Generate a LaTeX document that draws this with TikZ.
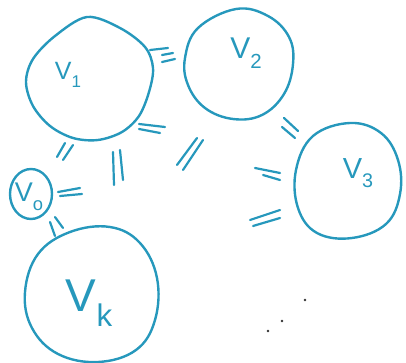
\documentclass[tikz,border=0pt]{standalone}
\usepackage{fontspec}
\setmainfont{Liberation Sans}
\definecolor{pen}{RGB}{38,152,188}
\definecolor{dotc}{RGB}{50,50,50}
\newcommand\lowsub[1]{\raisebox{-0.32em}{\scalebox{0.68}{#1}}}
\begin{document}
\begin{tikzpicture}[x=1pt,y=-1pt,
  blob/.style={draw=pen,line width=2.4pt,line join=round},
  tick/.style={draw=pen,line width=2.2pt,line cap=round},
  lbl/.style={text=pen,inner sep=0pt},
  dotm/.style={fill=dotc,circle,inner sep=0pt,minimum size=2.8pt}]
\useasboundingbox (0,0) rectangle (406,363);
% outlines
\draw[blob] plot[smooth cycle,tension=0.55] coordinates {(87,17) (120,28) (145,47) (153,68) (149,92) (139,116) (122,132) (98,140) (73,138) (50,126) (33,106) (26,82) (33,59) (55,36)};
\draw[blob] plot[smooth cycle,tension=0.65] coordinates {(236,9) (268,16) (289,37) (293,64) (284,94) (262,115) (233,119) (205,108) (188,85) (185,58) (198,28)};
\draw[blob] plot[smooth cycle,tension=0.65] coordinates {(350,123) (381,133) (398,160) (400,194) (386,224) (352,238) (317,233) (298,208) (296,170) (313,136)};
\draw[blob] (31,194) ellipse [x radius=21pt,y radius=25pt];
\draw[blob] plot[smooth cycle,tension=0.65] coordinates {(110,227) (140,243) (157,278) (155,320) (136,350) (98,362) (58,354) (32,328) (25,292) (38,254) (70,232)};
% labels
\node[lbl,font=\fontsize{25}{25}\selectfont] (v1) at (68,75) {V\lowsub{1}};
\node[lbl,font=\fontsize{30}{30}\selectfont] (v2) at (246,53) {V\lowsub{2}};
\node[lbl,font=\fontsize{29}{29}\selectfont] (v3) at (358,173) {V\lowsub{3}};
\node[lbl,font=\fontsize{27}{27}\selectfont] (v0) at (29,197) {V\lowsub{o}};
\node[lbl,font=\fontsize{46}{46}\selectfont] (vk) at (89,303) {V\lowsub{k}};
% edge bundles
\draw[tick] (150,50) -- (168,48);
\draw[tick] (162,55) -- (173,53);
\draw[tick] (162,62) -- (175,59);
\draw[tick] (139,124) -- (165,127);
\draw[tick] (139,129) -- (160,133);
\draw[tick] (57,157) -- (65,143);
\draw[tick] (63,160) -- (73,145);
\draw[tick] (113,152) -- (114,185);
\draw[tick] (120,150) -- (123,180);
\draw[tick] (177,165) -- (197,138);
\draw[tick] (183,170) -- (203,140);
\draw[tick] (284,118) -- (298,131);
\draw[tick] (282,127) -- (295,138);
\draw[tick] (255,168) -- (280,173);
\draw[tick] (263,175) -- (280,180);
\draw[tick] (250,220) -- (280,210);
\draw[tick] (253,226) -- (280,218);
\draw[tick] (58,192) -- (80,188);
\draw[tick] (60,196) -- (82,194);
\draw[tick] (50,222) -- (55,236);
\draw[tick] (55,217) -- (63,228);
% dots
\node[dotm] (d1) at (305,300) {};
\node[dotm] (d2) at (282,321) {};
\node[dotm] (d3) at (268,331) {};
\end{tikzpicture}
\end{document}
